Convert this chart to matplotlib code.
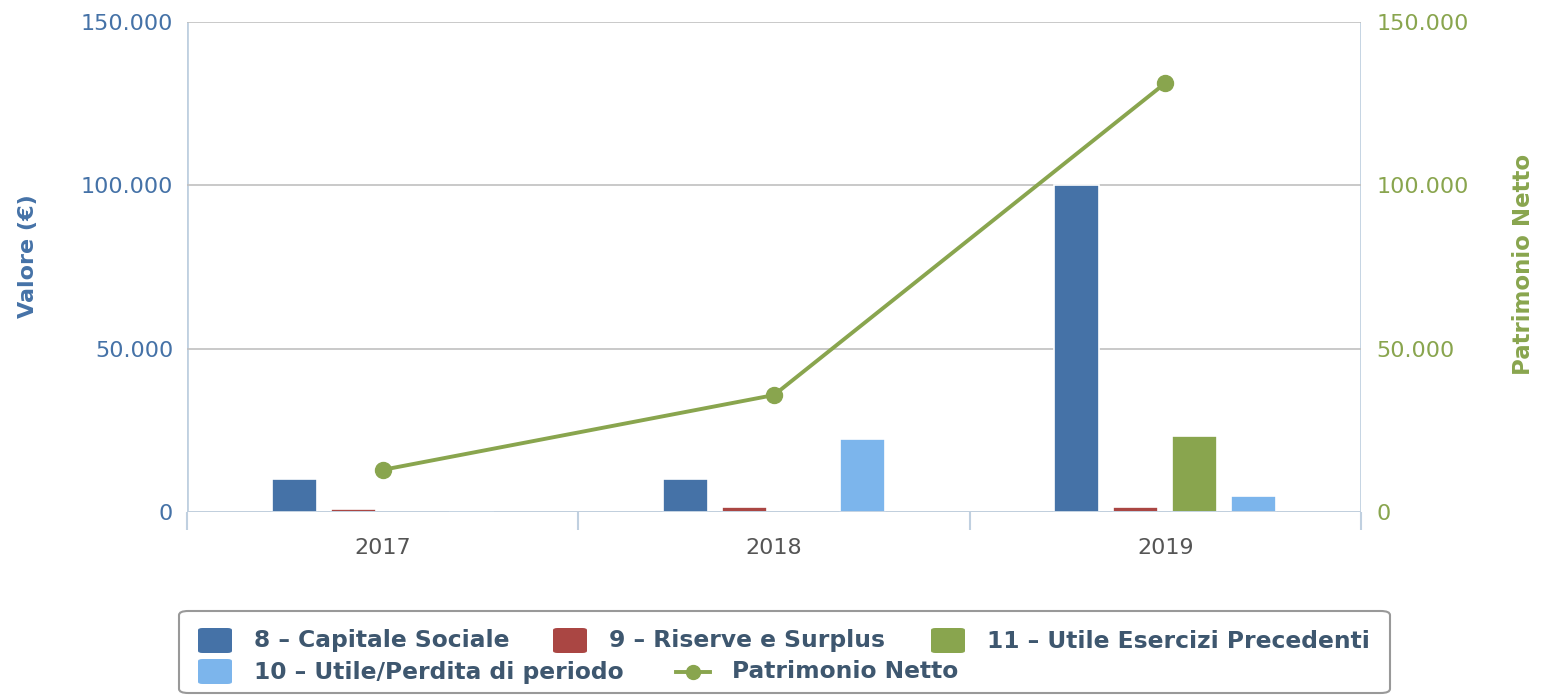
import matplotlib.pyplot as plt
from matplotlib.patches import FancyBboxPatch
from matplotlib.lines import Line2D
from matplotlib.ticker import FuncFormatter, FixedLocator
import numpy as np

# Dati
anni = ["2017", "2018", "2019"]
capitale_sociale = [10000, 10000, 100000]
riserve_surplus = [900, 1600, 1600]
utile_esercizi_prec = [None, None, 23300]
utile_perdita = [0, 22500, 4900]
patrimonio_netto = [12900, 35800, 131300]

serie = [
    ("8 – Capitale Sociale", capitale_sociale, "#4572A7"),
    ("9 – Riserve e Surplus", riserve_surplus, "#AA4643"),
    ("11 – Utile Esercizi Precedenti", utile_esercizi_prec, "#89A54E"),
    ("10 – Utile/Perdita di periodo", utile_perdita, "#7CB5EC"),
]
col_linea = "#89A54E"
col_asse = "#4572A7"
col_legenda = "#3E576F"


def fmt_it(v, pos=None):
    return f"{int(v):,}".replace(",", ".")


W, H = 1542, 695
fig = plt.figure(figsize=(W / 100, H / 100), dpi=100)
ax = fig.add_axes([187 / W, 1 - 512 / H, (1361 - 187) / W, 490 / H])
x = np.arange(len(anni))
passo = 0.151
larg = 0.115

# barre: una serie alla volta, None = nessuna barra
for i, (nome, valori, col) in enumerate(serie):
    off = (i - 1.5) * passo
    for xi, v in zip(x, valori):
        if v is None:
            continue
        ax.bar(xi + off, v, width=larg, color=col, edgecolor="white", linewidth=1.2, zorder=3)

# linea sull'asse destro
ax2 = ax.twinx()
ax2.plot(x, patrimonio_netto, color=col_linea, linewidth=2.8, marker="o", markersize=11.5, zorder=5)

for a in (ax, ax2):
    a.set_ylim(0, 150000)
    a.set_xlim(-0.5, 2.5)
    a.yaxis.set_major_locator(FixedLocator([0, 50000, 100000, 150000]))
    a.yaxis.set_major_formatter(FuncFormatter(fmt_it))
    for s in a.spines.values():
        s.set_visible(False)

ax.grid(axis="y", color="#C0C0C0", linewidth=1.2, zorder=0)
ax.axhline(0, color="#C0D0E0", linewidth=2, zorder=4)
ax.axvline(-0.5, color="#C0D0E0", linewidth=2, zorder=1)
ax.axvline(2.5, color="#C0D0E0", linewidth=2, zorder=1)

ax.set_xticks(x)
ax.set_xticklabels(anni)
ax.set_xticks([-0.5, 0.5, 1.5, 2.5], minor=True)
ax.tick_params(axis="x", which="major", length=0, pad=19, labelsize=16, labelcolor="#555555")
ax.tick_params(axis="x", which="minor", length=13, width=1.5, color="#C0D0E0")
ax.tick_params(axis="y", length=0, pad=10, labelsize=16, labelcolor=col_asse)
ax2.tick_params(axis="y", length=0, pad=11, labelsize=16, labelcolor=col_linea)

fig.text(28 / W, 1 - 256 / H, "Valore (€)", rotation=90, ha="center", va="center",
         fontsize=16, fontweight="bold", color=col_asse)
fig.text(1524 / W, 1 - 264 / H, "Patrimonio Netto", rotation=90, ha="center", va="center",
         fontsize=16.5, fontweight="bold", color=col_linea)

# Legenda
box = FancyBboxPatch((179 / W, 1 - 693 / H), 1211 / W, 82 / H,
                     boxstyle="round,pad=0,rounding_size=0.006", transform=fig.transFigure,
                     facecolor="white", edgecolor="#999999", linewidth=1.5)
fig.add_artist(box)

voci = [
    (198, 641, serie[0][0], serie[0][2]),
    (553, 641, serie[1][0], serie[1][2]),
    (931, 641, serie[2][0], serie[2][2]),
    (198, 672, serie[3][0], serie[3][2]),
]
for px, py, testo, col in voci:
    fig.add_artist(FancyBboxPatch((px / W, 1 - (py + 12) / H), 34 / W, 25 / H,
                                  boxstyle="round,pad=0,rounding_size=0.003",
                                  transform=fig.transFigure, facecolor=col, edgecolor="none"))
    fig.text((px + 56) / W, 1 - py / H, testo, ha="left", va="center", fontsize=16.8,
             fontweight="bold", color=col_legenda)

fig.add_artist(Line2D([676 / W, 710 / W], [1 - 672 / H, 1 - 672 / H], transform=fig.transFigure,
                      color=col_linea, linewidth=2.8))
fig.add_artist(Line2D([693 / W], [1 - 672 / H], transform=fig.transFigure, color=col_linea,
                      marker="o", markersize=10))
fig.text(732 / W, 1 - 672 / H, "Patrimonio Netto", ha="left", va="center", fontsize=16.8,
         fontweight="bold", color=col_legenda)

fig.savefig("out.png", dpi=100)
